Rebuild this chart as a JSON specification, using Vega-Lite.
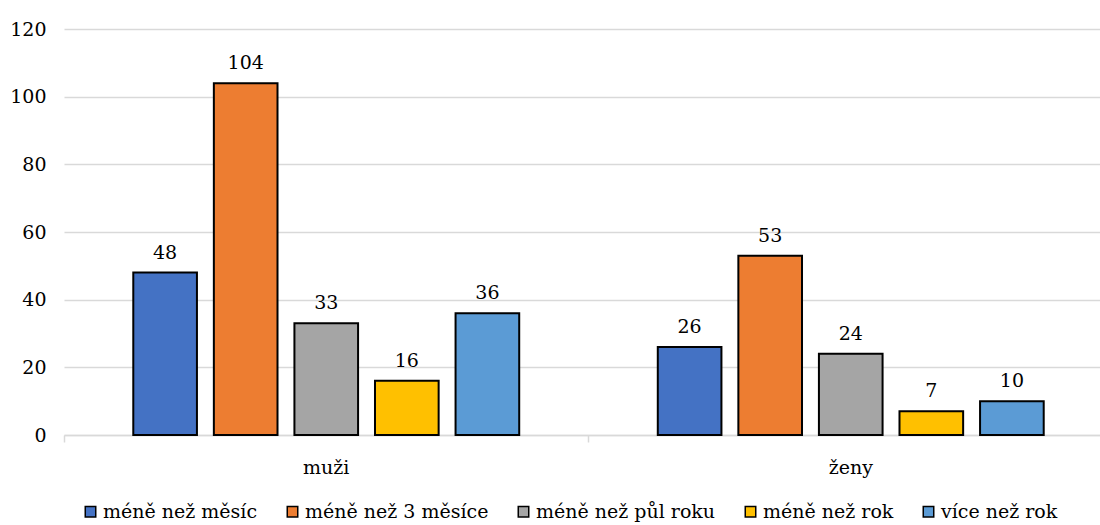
{
  "$schema": "https://vega.github.io/schema/vega-lite/v6.json",
  "autosize": {"type": "none"},
  "padding": {"left": 64, "top": 29, "right": 0, "bottom": 90},
  "width": 1036,
  "height": 406,
  "config": {
    "font": "DejaVu Serif",
    "view": {"stroke": null},
    "axis": {"labelFont": "DejaVu Serif", "labelFontSize": 19, "labelColor": "#000000"},
    "legend": {"labelFont": "DejaVu Serif", "labelFontSize": 19, "labelColor": "#000000", "labelLimit": 0}
  },
  "data": {
    "values": [
      {"pohlavi": "muži", "doba": "méně než měsíc", "pocet": 48},
      {"pohlavi": "muži", "doba": "méně než 3 měsíce", "pocet": 104},
      {"pohlavi": "muži", "doba": "méně než půl roku", "pocet": 33},
      {"pohlavi": "muži", "doba": "méně než rok", "pocet": 16},
      {"pohlavi": "muži", "doba": "více než rok", "pocet": 36},
      {"pohlavi": "ženy", "doba": "méně než měsíc", "pocet": 26},
      {"pohlavi": "ženy", "doba": "méně než 3 měsíce", "pocet": 53},
      {"pohlavi": "ženy", "doba": "méně než půl roku", "pocet": 24},
      {"pohlavi": "ženy", "doba": "méně než rok", "pocet": 7},
      {"pohlavi": "ženy", "doba": "více než rok", "pocet": 10}
    ]
  },
  "encoding": {
    "x": {
      "field": "pohlavi", "type": "nominal", "title": null,
      "scale": {"range": [0, 1049], "paddingInner": 0, "paddingOuter": 0},
      "axis": {"labelAngle": 0, "labelPadding": 16, "domainColor": "#d9d9d9", "domainWidth": 1.5, "tickColor": "#d9d9d9", "tickWidth": 1.5, "tickSize": 7, "bandPosition": 0, "grid": false}
    },
    "xOffset": {
      "field": "doba", "type": "nominal",
      "sort": ["méně než měsíc", "méně než 3 měsíce", "méně než půl roku", "méně než rok", "více než rok"],
      "scale": {"paddingInner": 0.21, "paddingOuter": 0.86}
    },
    "y": {
      "field": "pocet", "type": "quantitative", "title": null,
      "scale": {"domain": [0, 120]},
      "axis": {"values": [0, 20, 40, 60, 80, 100, 120], "domain": false, "ticks": false, "labelPadding": 18, "gridColor": "#d9d9d9", "gridWidth": 1.5}
    }
  },
  "layer": [
    {
      "mark": {"type": "bar", "stroke": "#000000", "strokeWidth": 2},
      "encoding": {
        "color": {
          "field": "doba", "type": "nominal",
          "scale": {
            "domain": ["méně než měsíc", "méně než 3 měsíce", "méně než půl roku", "méně než rok", "více než rok"],
            "range": ["#4472C4", "#ED7D31", "#A5A5A5", "#FFC000", "#5B9BD5"]
          },
          "legend": {
            "title": null, "orient": "none", "direction": "horizontal", "columns": 5,
            "legendX": 17, "legendY": 473,
            "symbolType": "square", "symbolSize": 110, "symbolStrokeColor": "#000000", "symbolStrokeWidth": 1.5,
            "labelOffset": 3, "columnPadding": 25
          }
        }
      }
    },
    {
      "mark": {"type": "text", "baseline": "bottom", "dy": -10, "fontSize": 19, "font": "DejaVu Serif", "color": "#000000"},
      "encoding": {"text": {"field": "pocet", "type": "quantitative"}}
    }
  ]
}
